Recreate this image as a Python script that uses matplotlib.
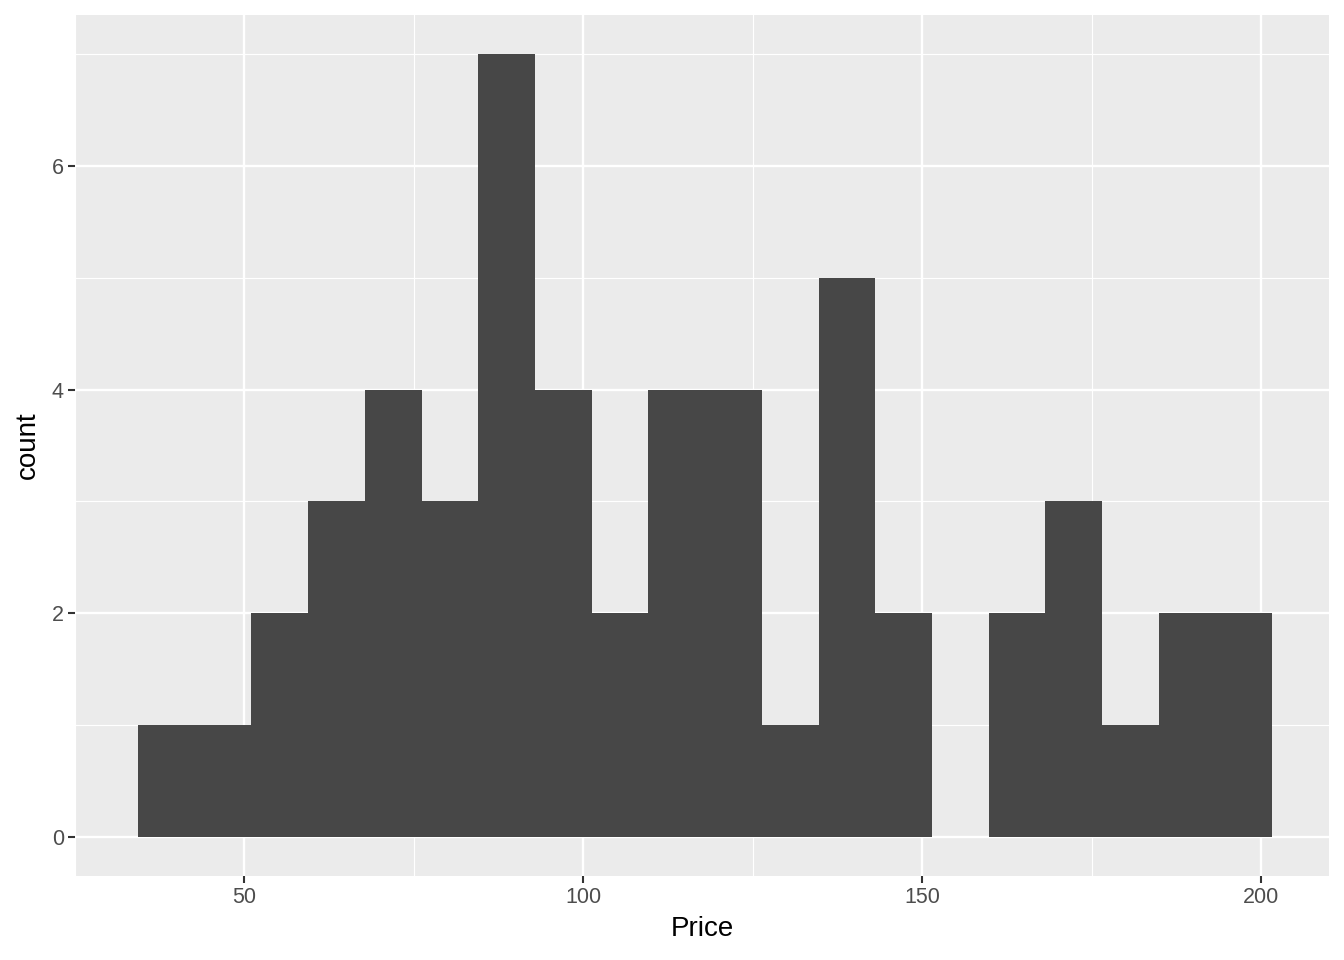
import matplotlib.pyplot as plt
import numpy as np

plt.rcParams['font.family'] = ['Liberation Sans', 'DejaVu Sans']

# histogram bins (20 bins)
bin_start = 34.29
bin_width = 8.366
counts = [1, 1, 2, 3, 4, 3, 7, 4, 2, 4, 4, 1, 5, 2, 0, 2, 3, 1, 2, 2]
x_ticks = [50, 100, 150, 200]
y_ticks = [0, 2, 4, 6]

edges = bin_start + bin_width * np.arange(len(counts) + 1)
lefts = edges[:-1]

fig = plt.figure(figsize=(13.44, 9.6), dpi=100)
ax = fig.add_axes([75/1344, 1 - 876/960, (1329 - 75)/1344, (876 - 15)/960])
ax.set_facecolor('#EBEBEB')

ax.bar(lefts, counts, width=bin_width, align='edge', color='#474747',
       linewidth=0, zorder=3)

xr = edges[-1] - edges[0]
ax.set_xlim(edges[0] - 0.05*xr, edges[-1] + 0.05*xr)
ax.set_ylim(-0.05*max(counts), max(counts)*1.05)

ax.set_xticks(x_ticks)
ax.set_yticks(y_ticks)
ax.set_xticks([25, 75, 125, 175], minor=True)
ax.set_yticks([1, 3, 5, 7], minor=True)
ax.grid(which='major', color='white', linewidth=1.7, zorder=1)
ax.grid(which='minor', color='white', linewidth=0.85, zorder=1)
ax.set_axisbelow(True)

for s in ax.spines.values():
    s.set_visible(False)

ax.tick_params(which='major', length=5, width=1.5, color='#333333',
               labelcolor='#4D4D4D', labelsize=15.5, pad=3)
ax.tick_params(which='minor', length=0)

ax.set_xlabel('Price', fontsize=20, color='black', labelpad=6)
ax.set_ylabel('count', fontsize=20, color='black', labelpad=8)

fig.savefig('out.png', dpi=100)
